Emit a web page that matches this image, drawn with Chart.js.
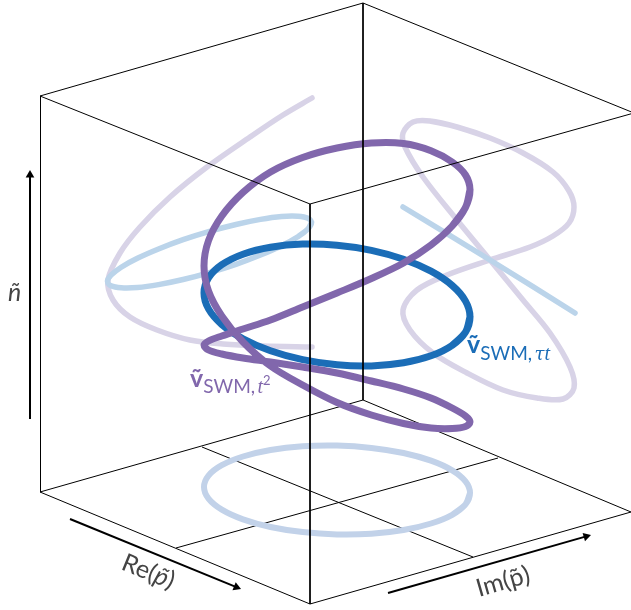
<!DOCTYPE html>
<html>
<head>
<meta charset="utf-8">
<style>
  html, body { margin: 0; padding: 0; background: #fff; }
  canvas { display: block; }
</style>
<script src="https://cdn.jsdelivr.net/npm/chart.js@4/dist/chart.umd.js"></script>
</head>
<body>
<canvas id="chart" width="631" height="610"></canvas>
<script>
// Values, in projected plot units (x, y)
const floorEdges = [
  [[40, 492], [310, 604]], [[310, 604], [631, 512]],
  [[631, 512], [363, 400]], [[363, 400], [40, 492]]
];
const floorGrid = [
  [[176, 548], [498, 458]], [[202, 447], [473, 557]]
];
const upperEdges = [
  [[40, 96], [363, 3]], [[363, 3], [634, 113]], [[634, 113], [310, 204]], [[310, 204], [40, 96]],
  [[40.5, 96], [40.5, 492]], [[310, 204], [310, 604]], [[363, 3], [363, 400]]
];

const floorLoop = [
  [470, 493], [465.5, 504.4], [452.2, 514.8], [431, 523.5], [403.5, 530], [371.4, 533.7],
  [337, 534.4], [302.6, 532.1], [270.5, 527], [243, 519.3], [221.8, 509.6], [208.5, 498.6],
  [204, 487], [208.5, 475.6], [221.8, 465.2], [243, 456.5], [270.5, 450], [302.6, 446.3],
  [337, 445.6], [371.4, 447.9], [403.5, 453], [431, 460.7], [452.2, 470.4], [465.5, 481.4]
];
const leftPurple = [
  [312, 98], [283, 115], [250, 137], [207, 167], [170, 197], [140, 227], [120, 253],
  [108, 280], [113, 300], [130, 317], [157, 330], [190, 340], [223, 344], [263, 346], [312, 347]
];
const leftBlue = [
  [311.5, 222.5], [308, 228.8], [297.8, 236.8], [281.6, 245.7], [260.5, 255], [235.9, 264.3],
  [209.5, 272.6], [183.1, 279.5], [158.5, 284.6], [137.4, 287.5], [121.2, 287.8], [111, 285.8],
  [107.5, 281.5], [111, 275.2], [121.2, 267.2], [137.4, 258.3], [158.5, 249], [183.1, 239.7],
  [209.5, 231.4], [235.9, 224.5], [260.5, 219.4], [281.6, 216.5], [297.8, 216.2], [308, 218.2]
];
const rightBlue = [[403, 207], [490, 260], [575, 313]];
const rightPurple = [
  [430, 121], [457, 127], [490, 138], [523, 153], [553, 172], [569, 191], [574, 207], [569, 223],
  [553, 236], [530, 247], [490, 260], [447, 275], [417, 290], [403, 310], [410, 330],
  [433, 353], [467, 373], [503, 390], [537, 398], [563, 399], [574, 388], [570, 367],
  [550, 333], [523, 300], [490, 260], [457, 220], [423, 177], [405, 147], [403, 133], [413, 122]
];
const blueLoop = [
  [470, 317], [465.5, 332.1], [452.2, 345.3], [431, 355.8], [403.5, 362.8], [371.4, 365.9],
  [337, 364.8], [302.6, 359.7], [270.5, 350.8], [243, 338.8], [221.8, 324.5], [208.5, 308.9],
  [204, 293], [208.5, 277.9], [221.8, 264.7], [243, 254.2], [270.5, 247.2], [302.6, 244.1],
  [337, 245.2], [371.4, 250.3], [403.5, 259.2], [431, 271.2], [452.2, 285.5], [465.5, 301.1]
];
const purpleLoop = [
  [470, 190], [465.5, 207.4], [452.2, 226], [431, 245], [403.5, 263], [371.4, 278.5], [337, 293],
  [302.6, 307], [270.5, 320], [243, 329], [221.8, 336], [208.5, 341], [204, 345], [208.5, 350],
  [221.8, 354], [243, 358], [270.5, 362], [302.6, 367], [337, 373], [371.4, 381], [403.5, 389],
  [431, 398], [452.2, 408], [465.5, 416], [470, 422], [465.5, 426.5], [452.2, 428.5], [431, 428],
  [403.5, 423.5], [371.4, 415], [337, 402.5], [302.6, 385], [270.5, 366], [243, 342], [221.8, 316],
  [208.5, 291], [204, 266], [208.5, 240.6], [221.8, 216], [243, 192.4], [270.5, 172], [302.6, 157.5],
  [337, 148], [371.4, 143], [403.5, 143.5], [431, 150.7], [452.2, 162], [465.5, 175]
];
const nAxisArrow = [[30, 419], [30, 175]];
const reAxisArrow = [[70, 519], [236.4, 587.1]];
const imAxisArrow = [[388, 593], [586.2, 536.4]];

const COLORS = {
  purple: '#8167ac',
  blue: '#1b6db7',
  lightPurple: '#d8d3e7',
  lightBlue: '#bbd4ea',
  floor: '#c2d2e9',
  edge: '#000',
  label: '#444444'
};

function toPoints(pairs) {
  return pairs.map(p => ({ x: p[0], y: p[1] }));
}

// Repeat the first points so the spline has no seam where the loop closes
function closeLoop(pairs) {
  return pairs.concat(pairs.slice(0, 3));
}

function curve(pairs, color, width) {
  return {
    data: toPoints(pairs),
    showLine: true,
    borderColor: color,
    borderWidth: width,
    borderCapStyle: 'round',
    borderJoinStyle: 'round',
    tension: 0.33,
    pointRadius: 0
  };
}

function edge(pair, color, width) {
  return {
    data: toPoints(pair),
    showLine: true,
    borderColor: color,
    borderWidth: width,
    pointRadius: 0
  };
}

function arrow(pair, rotation) {
  return {
    data: toPoints(pair),
    showLine: true,
    borderColor: '#000',
    borderWidth: 2,
    pointStyle: 'triangle',
    pointRadius: [0, 5],
    pointBorderWidth: 0,
    pointBackgroundColor: '#000',
    rotation: rotation
  };
}

// Listed in paint order, first one ends up underneath
const layers = [
  ...floorEdges.map(e => edge(e, COLORS.edge, 1)),
  ...floorGrid.map(e => edge(e, COLORS.edge, 1)),
  curve(closeLoop(floorLoop), COLORS.floor, 6),
  curve(leftPurple, COLORS.lightPurple, 5.5),
  curve(closeLoop(rightPurple), COLORS.lightPurple, 5.5),
  curve(closeLoop(leftBlue), COLORS.lightBlue, 5.5),
  curve(rightBlue, COLORS.lightBlue, 5.5),
  curve(closeLoop(blueLoop), COLORS.blue, 7),
  curve(closeLoop(purpleLoop), COLORS.purple, 7),
  ...upperEdges.map(e => edge(e, COLORS.edge, 1)),
  arrow(nAxisArrow, 0),
  arrow(reAxisArrow, 112),
  arrow(imAxisArrow, 74)
];
layers.forEach((d, i) => { d.order = layers.length - i; });

// Text made of runs in different fonts on one baseline
function drawRuns(ctx, x, y, angle, color, runs) {
  ctx.save();
  ctx.translate(x, y);
  ctx.rotate(angle * Math.PI / 180);
  ctx.fillStyle = color;
  ctx.textBaseline = 'alphabetic';
  let pen = 0;
  runs.forEach(r => {
    ctx.font = r[1];
    ctx.fillText(r[0], pen, r[2] || 0);
    pen += ctx.measureText(r[0]).width;
  });
  ctx.restore();
}

const SANS = 'Lato, "Open Sans", sans-serif';
const MATH = '"Liberation Serif", serif';

const labelsPlugin = {
  id: 'labels',
  afterDraw(chart) {
    const ctx = chart.ctx;
    const sx = chart.scales.x;
    const sy = chart.scales.y;
    const at = (x, y) => [sx.getPixelForValue(x), sy.getPixelForValue(y)];

    drawRuns(ctx, ...at(190, 387), 0, COLORS.purple, [
      ['\u1E7D', 'bold 25px ' + SANS],
      ['SWM,\u2009', '19px ' + SANS, 6],
      ['t', 'italic 20px ' + MATH, 6],
      ['2', '13px ' + SANS, -2]
    ]);
    drawRuns(ctx, ...at(467, 353), 0, COLORS.blue, [
      ['\u1E7D', 'bold 25px ' + SANS],
      ['SWM,\u2009', '19px ' + SANS, 7],
      ['\u03C4', 'italic 18px "DejaVu Serif", serif', 7],
      ['t', 'italic 20px ' + MATH, 7]
    ]);
    drawRuns(ctx, ...at(120, 569), 22, COLORS.label, [
      ['Re(', '25px ' + SANS],
      ['p\u0303', 'italic 25px ' + SANS],
      [')', '25px ' + SANS]
    ]);
    drawRuns(ctx, ...at(479, 597), -16, COLORS.label, [
      ['Im(', '25px ' + SANS],
      ['p\u0303', '25px ' + SANS],
      [')', '25px ' + SANS]
    ]);
    drawRuns(ctx, ...at(8, 301), 0, COLORS.label, [
      ['\u00F1', 'italic 25px ' + SANS]
    ]);
  }
};

new Chart(document.getElementById('chart'), {
  type: 'scatter',
  data: { datasets: layers },
  options: {
    responsive: false,
    animation: false,
    clip: false,
    layout: { padding: 0, autoPadding: false },
    plugins: { legend: { display: false }, tooltip: { enabled: false } },
    scales: {
      x: { type: 'linear', min: 0, max: 631, display: false },
      y: { type: 'linear', min: 0, max: 610, reverse: true, display: false }
    }
  },
  plugins: [labelsPlugin]
});
</script>
</body>
</html>
